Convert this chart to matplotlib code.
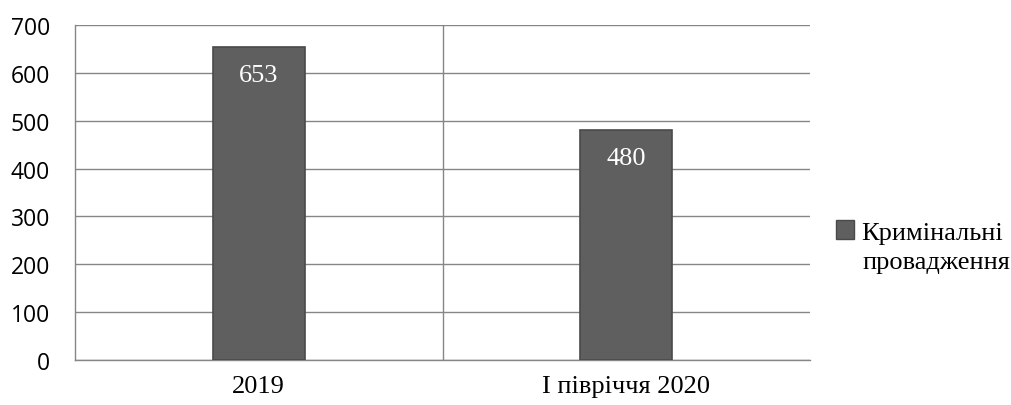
import matplotlib
matplotlib.use("Agg")
import matplotlib.pyplot as plt
from matplotlib.patches import Patch

categories = ["2019", "І півріччя 2020"]
values = [653, 480]
series_line1 = "Кримінальні"
series_line2 = "провадження"
yticks = [0, 100, 200, 300, 400, 500, 600, 700]

fig = plt.figure(figsize=(10.11, 4.06), dpi=100)
ax = fig.add_axes([75/1011, 1-361/406, (810-75)/1011, (361-26)/406])

x = list(range(len(categories)))
bars = ax.bar(x, values, width=0.25, color="#5f5f5f", edgecolor="#4a4a4a",
              linewidth=1.2, zorder=3)

ax.set_xlim(-0.5, len(categories) - 0.5)
ax.set_ylim(0, 700)
ax.set_yticks(yticks)
ax.set_yticklabels([str(t) for t in yticks], fontsize=16.5, family="Open Sans")
ax.yaxis.grid(True, color="#868686", linewidth=1.0, zorder=0)
ax.axvline(0.5, color="#868686", linewidth=1.0, zorder=0)
ax.set_xticks(x)
ax.set_xticklabels(categories, fontsize=19, family="Liberation Serif")
ax.tick_params(axis="x", length=0, pad=11)
ax.tick_params(axis="y", length=0, pad=18)
for s in ["top", "right"]:
    ax.spines[s].set_visible(False)
for s in ["left", "bottom"]:
    ax.spines[s].set_color("#868686")
    ax.spines[s].set_linewidth(1.0)

for xi, v in zip(x, values):
    ax.text(xi, v - 58, str(v), ha="center", va="center", color="white",
            fontsize=19, family="Liberation Serif", zorder=4)

handle = Patch(facecolor="#5f5f5f", edgecolor="#4a4a4a")
fig.legend([handle], [series_line1], loc="center left",
           bbox_to_anchor=(836/1011, 1-233/406), frameon=False,
           prop={"family": "Liberation Serif", "size": 19},
           handlelength=0.7, handleheight=0.7, handletextpad=0.25,
           borderpad=0, borderaxespad=0)
fig.text(862/1011, 1-263/406, series_line2, ha="left", va="center",
         fontsize=19, family="Liberation Serif")

fig.savefig("out.png", dpi=100)
